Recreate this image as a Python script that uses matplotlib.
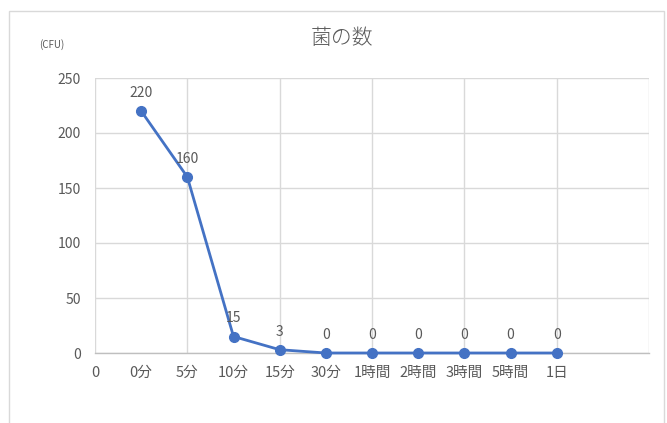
import matplotlib
matplotlib.use("Agg")
import matplotlib.pyplot as plt
from matplotlib.patches import Rectangle
from matplotlib.ticker import MultipleLocator, FixedLocator

plt.rcParams['font.family'] = ['Noto Sans CJK JP', 'DejaVu Sans']

title = "菌の数"
unit_label = "(CFU)"
tick_labels = ["0", "0分", "5分", "10分", "15分", "30分", "1時間", "2時間", "3時間", "5時間", "1日"]
x_values = [1, 2, 3, 4, 5, 6, 7, 8, 9, 10]
counts = [220, 160, 15, 3, 0, 0, 0, 0, 0, 0]

blue = "#4472C4"
grid = "#D9D9D9"
text_gray = "#595959"

fig = plt.figure(figsize=(6.67, 4.23), dpi=100)
fig.patch.set_facecolor("white")

# chart frame
fig.patches.append(Rectangle((9 / 667, -0.05), (664 - 9) / 667, 1 - 11 / 423 + 0.05,
                             transform=fig.transFigure, fill=False,
                             edgecolor="#D9D9D9", linewidth=1.0))

ax = fig.add_axes([95 / 667, 1 - 353 / 423, (649 - 95) / 667, (353 - 78) / 423])
ax.set_xlim(0, 12)
ax.set_ylim(0, 250)

ax.yaxis.set_major_locator(MultipleLocator(50))
ax.grid(True, axis="y", color=grid, linewidth=1.0)
ax.set_axisbelow(True)

# category labels under every unit step, gridlines every second step
ax.xaxis.set_major_locator(FixedLocator(list(range(len(tick_labels)))))
ax.set_xticklabels(tick_labels)
for gx in range(0, 13, 2):
    ax.axvline(gx, color=grid, linewidth=1.0, zorder=0)

ax.tick_params(axis="both", length=0, colors=text_gray, labelsize=10)
ax.tick_params(axis="x", pad=9, labelsize=10.5)
ax.tick_params(axis="y", pad=10)
for s in ["top", "right", "left"]:
    ax.spines[s].set_visible(False)
ax.spines["bottom"].set_color("#BFBFBF")
ax.spines["bottom"].set_linewidth(1.0)

ax.plot(x_values, counts, color=blue, linewidth=2.0, marker="o", markersize=7,
        markerfacecolor=blue, markeredgecolor=blue, zorder=3, clip_on=False)

for xv, c in zip(x_values, counts):
    ax.annotate(str(c), (xv, c), xytext=(0, 8), textcoords="offset points",
                ha="center", va="bottom", color=text_gray, fontsize=10)

fig.text(342 / 667, 1 - 38 / 423, title, ha="center", va="center",
         fontsize=15, color=text_gray, fontweight="light")
fig.text(52 / 667, 1 - 45 / 423, unit_label, ha="center", va="center",
         fontsize=7, color=text_gray)

fig.savefig("out.png", dpi=100, facecolor="white")
